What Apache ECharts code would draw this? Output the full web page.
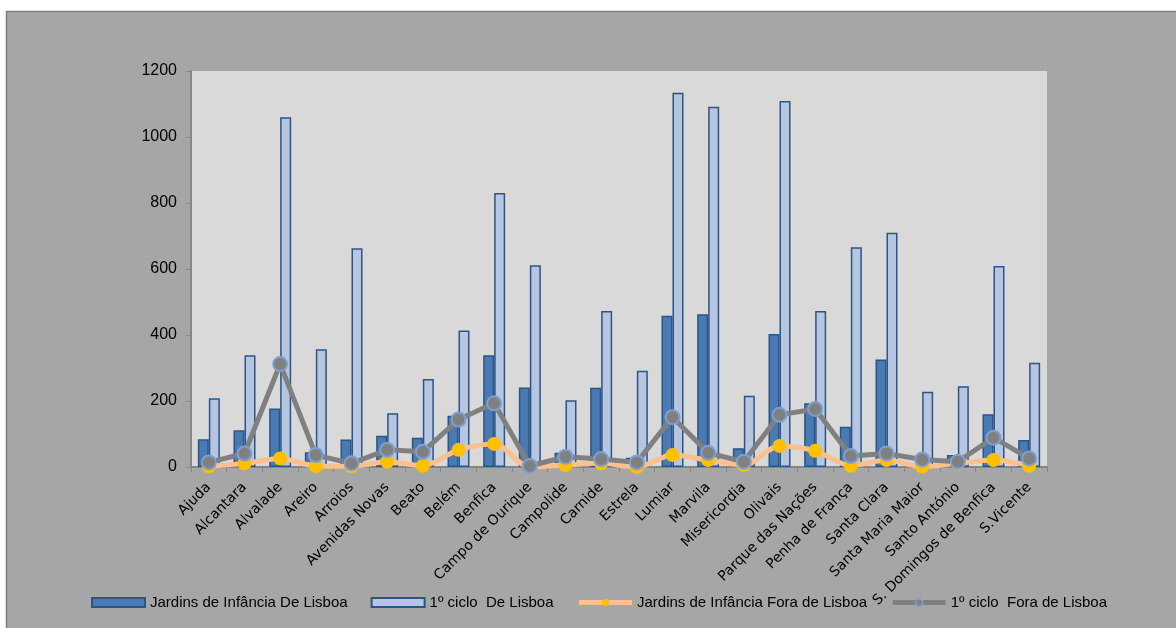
<!DOCTYPE html>
<html>
<head>
<meta charset="utf-8">
<script src="https://cdn.jsdelivr.net/npm/echarts@6/dist/echarts.min.js"></script>
<style>
html,body{margin:0;padding:0;background:#fff;}
#c{width:1176px;height:628px;}
</style>
</head>
<body>
<div id="c"></div>
<script>
const categories = ["Ajuda","Alcantara","Alvalade","Areiro","Arroios","Avenidas Novas","Beato","Belém","Benfica","Campo de Ourique","Campolide","Carnide","Estrela","Lumiar","Marvila","Misericordia","Olivais","Parque das Nações","Penha de França","Santa Clara","Santa Maria Maior","Santo António","S. Domingos de Benfica","S.Vicente"];
const jardinsLisboa = [84,111,177,45,83,95,89,155,339,241,43,240,28,458,463,57,403,193,122,326,3,36,160,82];
const cicloLisboa = [208,339,1060,357,663,163,267,414,830,611,202,473,292,1134,1092,216,1109,473,666,710,228,245,609,316];
const jardinsFora = [2,11,26,3,2,16,4,52,70,0,6,11,0,36,21,6,64,49,4,21,1,11,21,4];
const cicloFora = [14,41,312,36,11,52,46,144,193,3,31,24,14,151,43,16,158,176,33,41,23,16,89,26];
const seriesNames = ["Jardins de Infância De Lisboa","1º ciclo  De Lisboa","Jardins de Infância Fora de Lisboa","1º ciclo  Fora de Lisboa"];
const yTicks = {min:0,max:1200,interval:200};

const chart = echarts.init(document.getElementById('c'), null, {renderer:'canvas'});
chart.setOption({
  backgroundColor:'#ffffff',
  animation:false,
  graphic:[{type:'rect',z:-10,shape:{x:6.5,y:11.5,width:1200,height:640},style:{fill:'#a6a6a6',stroke:'#808080',lineWidth:1.5}}],
  grid:{left:191,top:71,right:129,bottom:161,show:true,backgroundColor:'#d9d9d9',borderWidth:0},
  legend:{
    left:86, top:590, itemWidth:53, itemHeight:9, itemGap:23,
    textStyle:{fontFamily:'Liberation Sans',fontSize:15,color:'#000'},
    data:[
      {name:seriesNames[0],icon:'rect'},
      {name:seriesNames[1],icon:'rect'},
      {name:seriesNames[2],lineStyle:{width:5,color:'#fac090'},itemStyle:{color:'#ffc000',borderWidth:0}},
      {name:seriesNames[3],lineStyle:{width:5,color:'#808080'},itemStyle:{color:'#808080',borderColor:'#7f9fd0',borderWidth:1.5}}
    ]
  },
  xAxis:{
    type:'category', data:categories, boundaryGap:true,
    axisLine:{lineStyle:{color:'#868686',width:2}},
    axisTick:{show:true,alignWithLabel:false,length:5,lineStyle:{color:'#868686',width:1}},
    axisLabel:{rotate:45,interval:0,margin:18,fontFamily:'DejaVu Sans',fontSize:14,color:'#000'}
  },
  yAxis:{
    type:'value', min:yTicks.min, max:yTicks.max, interval:yTicks.interval,
    splitLine:{show:false},
    axisLine:{show:true,lineStyle:{color:'#868686',width:2}},
    axisTick:{show:true,length:5,lineStyle:{color:'#868686'}},
    axisLabel:{margin:14,fontFamily:'Liberation Sans',fontSize:16,color:'#000',formatter:function(v){return String(v);}}
  },
  series:[
    {name:seriesNames[0],type:'bar',data:jardinsLisboa,barWidth:11,barGap:'0%',
     itemStyle:{color:'#4a7ab4',borderColor:'#2c5487',borderWidth:1.5}},
    {name:seriesNames[1],type:'bar',data:cicloLisboa,barWidth:11,barGap:'0%',
     itemStyle:{color:'#b7c6e0',borderColor:'#2c5487',borderWidth:1.5}},
    {name:seriesNames[2],type:'line',data:jardinsFora,smooth:0.3,symbol:'circle',symbolSize:14,
     lineStyle:{color:'#fac090',width:5},itemStyle:{color:'#ffc000',borderWidth:0},z:3},
    {name:seriesNames[3],type:'line',data:cicloFora,symbol:'circle',symbolSize:14,
     lineStyle:{color:'#808080',width:5},itemStyle:{color:'#808080',borderColor:'#7f9fd0',borderWidth:2},z:4}
  ]
});
</script>
</body>
</html>
